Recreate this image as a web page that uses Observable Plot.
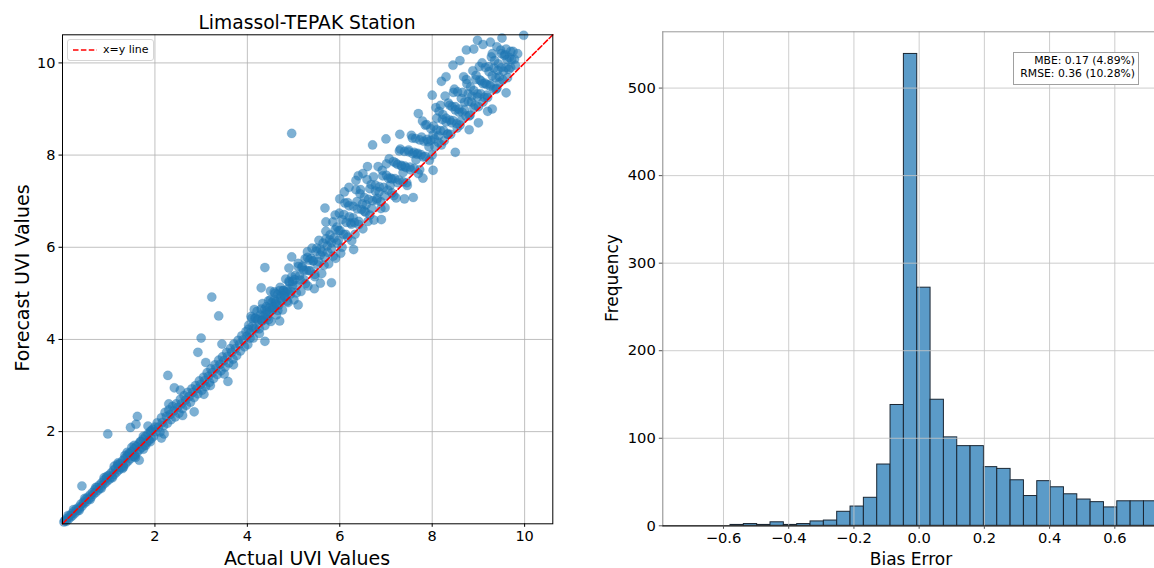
<!DOCTYPE html>
<html>
<head>
<meta charset="utf-8">
<script src="https://cdn.jsdelivr.net/npm/d3@7"></script>
<script src="https://cdn.jsdelivr.net/npm/@observablehq/plot@0.6"></script>
<style>
  body { margin: 0; background: #fff; font-family: "DejaVu Sans", sans-serif; }
  #wrap { position: relative; width: 1154px; height: 568px; overflow: hidden; background: #fff; }
  .abs { position: absolute; white-space: nowrap; color: #000; }
  #left, #right { position: absolute; top: 0; }
  #left { left: 0; }
  #right { left: 580px; }
</style>
</head>
<body>
<div id="wrap">
  <div id="left"></div>
  <div id="right"></div>
  <div class="abs" id="title" style="left:307px;top:21.5px;transform:translate(-50%,-50%);font-size:18.7px;">Limassol-TEPAK Station</div>
  <div class="abs" style="left:307px;top:558px;transform:translate(-50%,-50%);font-size:19px;">Actual UVI Values</div>
  <div class="abs" style="left:22px;top:278px;transform:translate(-50%,-50%) rotate(-90deg);font-size:19px;">Forecast UVI Values</div>
  <div class="abs" style="left:911px;top:559px;transform:translate(-50%,-50%);font-size:17px;">Bias Error</div>
  <div class="abs" style="left:612px;top:278px;transform:translate(-50%,-50%) rotate(-90deg);font-size:17px;">Frequency</div>
  <div class="abs" id="legend" style="left:67px;top:39px;width:85px;height:20px;border:1px solid #d6d6d6;border-radius:3px;background:rgba(255,255,255,0.85);">
    <svg width="30" height="20" style="position:absolute;left:3px;top:0;"><line x1="2" y1="10" x2="26" y2="10" stroke="#ff0000" stroke-width="1.5" stroke-dasharray="5.5,2.4"/></svg>
    <span style="position:absolute;left:35px;top:2px;font-size:11px;line-height:16px;">x=y line</span>
  </div>
  <div class="abs" id="stats" style="left:1013px;top:52px;width:124px;height:29px;border:1.5px solid #a0a0a0;background:#fff;text-align:right;font-size:10.8px;line-height:12.6px;padding-top:2px;">
    <div style="padding-right:3px;">MBE: 0.17 (4.89%)</div>
    <div style="padding-right:3px;">RMSE: 0.36 (10.28%)</div>
  </div>
</div>
<script>
// ---------- Scatter data: [actual, forecast] ----------
const lowBand = [
  [0.03,0.04],[0.05,0.07],[0.08,0.05],[0.1,0.12],[0.13,0.1],[0.15,0.17],[0.18,0.15],[0.2,0.22],[0.22,0.18],[0.25,0.27],
  [0.27,0.23],[0.3,0.32],[0.32,0.28],[0.35,0.36],[0.37,0.33],[0.4,0.43],[0.42,0.38],[0.45,0.47],[0.47,0.44],[0.5,0.53],
  [0.52,0.48],[0.55,0.58],[0.57,0.54],[0.6,0.63],[0.62,0.58],[0.65,0.68],[0.67,0.64],[0.7,0.74],[0.72,0.68],[0.75,0.79],
  [0.77,0.73],[0.8,0.84],[0.82,0.78],[0.85,0.89],[0.87,0.84],[0.9,0.95],[0.92,0.88],[0.95,0.99],[0.97,0.93],[1.0,1.05],
  [1.02,0.97],[1.05,1.1],[1.07,1.02],[1.1,1.16],[1.12,1.07],[1.15,1.2],[1.17,1.12],[1.2,1.26],[1.22,1.17],[1.25,1.31],
  [1.27,1.22],[1.3,1.37],[1.32,1.26],[1.35,1.42],[1.37,1.31],[1.4,1.47],[1.42,1.36],[1.45,1.52],[1.47,1.41],[1.5,1.57],
  [1.52,1.46],[1.55,1.63],[1.57,1.5],[1.6,1.68],[1.62,1.56],[1.65,1.73],[1.67,1.61],[1.7,1.79],[1.72,1.66],[1.75,1.84],
  [1.77,1.7],[1.8,1.9],[1.82,1.76],[1.85,1.95],[1.87,1.81],[1.9,2.0],[1.92,1.85],[1.95,2.05],[1.97,1.9],[2.0,2.1],
  [0.12,0.18],[0.24,0.31],[0.36,0.29],[0.48,0.55],[0.6,0.53],[0.72,0.79],[0.84,0.77],[0.96,1.03],[1.08,1.0],[1.2,1.29],
  [1.32,1.23],[1.44,1.53],[1.56,1.46],[1.68,1.78],[1.8,1.7],[1.92,2.02],[1.35,1.48],[1.55,1.7],[1.75,1.9],[1.9,1.78],
  [0.42,0.82],[0.98,1.95],[1.12,1.25],[1.3,1.2],[1.47,2.09],[1.59,2.16],[1.62,2.33],[1.66,1.38],[1.5,1.66],[1.58,1.44],
  [1.75,1.62],[1.85,2.12],[1.2,1.32],[0.9,1.0],[1.4,1.55]
];
const midBand = [
  [2.02,2.0],[2.05,2.19],[2.08,2.1],[2.11,1.99],[2.14,2.3],[2.16,2.2],[2.19,2.13],[2.22,2.42],[2.25,2.33],[2.27,2.18],
  [2.3,2.47],[2.33,2.37],[2.35,2.26],[2.38,2.55],[2.41,2.45],[2.44,2.32],[2.46,2.6],[2.49,2.52],[2.52,2.4],[2.55,2.7],
  [2.57,2.6],[2.6,2.5],[2.63,2.78],[2.66,2.68],[2.68,2.57],[2.71,2.85],[2.74,2.76],[2.77,2.64],[2.8,2.93],[2.82,2.85],
  [2.85,2.74],[2.88,3.0],[2.91,2.93],[2.93,2.82],[2.96,3.1],[2.99,3.02],[3.02,2.9],[3.05,3.18],[3.07,3.1],[3.1,2.98],
  [3.13,3.28],[3.16,3.2],[3.18,3.07],[3.21,3.36],[3.24,3.28],[3.27,3.15],[3.3,3.45],[3.32,3.37],[3.35,3.24],[3.38,3.55],
  [3.41,3.46],[3.43,3.32],[3.46,3.62],[3.49,3.54],[3.52,3.4],[3.55,3.72],[3.57,3.63],[3.6,3.49],[3.63,3.8],[3.66,3.72],
  [3.69,3.57],[3.71,3.9],[3.74,3.8],[3.77,3.65],[3.8,3.98],[3.83,3.9],[3.85,3.75],[3.88,4.08],[3.91,3.99],[3.94,3.84],
  [3.97,4.17],[3.99,4.07],
  [2.14,1.86],[2.85,2.43],[2.28,3.22],[2.42,2.95],[3.0,4.03],[2.93,3.72],[3.06,2.81],[3.58,3.09],[3.38,4.51],
  [3.23,4.92],[2.2,1.95],[2.6,2.35],[3.2,3.0],[3.5,3.25],[3.1,3.5],[3.45,3.9],[3.7,3.45],[2.3,2.6],[2.55,2.9]
];
const upperBand = [
  [4.01,3.89],[4.03,4.31],[4.06,4.14],[4.08,4.5],[4.11,4.29],[4.13,4.03],[4.16,4.46],[4.18,4.23],[4.21,4.61],[4.23,4.43],
  [4.26,4.13],[4.28,4.53],[4.31,4.41],[4.33,4.78],[4.36,4.51],[4.38,4.3],[4.41,4.71],[4.43,4.48],[4.46,4.84],[4.48,4.68],
  [4.51,4.39],[4.53,4.8],[4.56,4.66],[4.58,5.03],[4.61,4.79],[4.63,4.53],[4.66,4.98],[4.68,4.74],[4.71,5.13],[4.73,4.95],
  [4.76,4.64],[4.78,5.06],[4.81,4.91],[4.83,5.31],[4.86,5.04],[4.88,4.8],[4.91,5.24],[4.93,4.98],[4.96,5.36],[4.98,5.18],
  [5.01,4.86],[5.04,5.39],[5.07,5.17],[5.1,5.65],[5.13,5.38],[5.16,5.04],[5.19,5.59],[5.22,5.3],[5.25,5.75],[5.28,5.5],
  [5.31,5.16],[5.34,5.72],[5.37,5.49],[5.4,5.98],[5.43,5.71],[5.46,5.36],[5.49,5.91],[5.52,5.62],[5.55,6.15],[5.58,5.83],
  [5.61,5.43],[5.64,6.09],[5.67,5.79],[5.7,6.35],[5.73,6.03],[5.76,5.64],[5.79,6.27],[5.82,5.97],[5.85,6.55],[5.88,6.2],
  [5.91,5.76],[5.94,6.44],[5.97,6.15],[5.99,6.74],
  [4.02,4.22],[4.06,4.03],[4.1,4.46],[4.14,4.24],[4.18,4.46],[4.22,4.42],[4.26,4.23],[4.3,4.66],[4.34,4.44],[4.38,4.66],
  [4.42,4.62],[4.46,4.43],[4.5,4.86],[4.54,4.64],[4.58,4.86],[4.62,4.82],[4.66,4.63],[4.7,5.06],[4.74,4.84],[4.78,5.06],
  [4.82,5.02],[4.86,4.83],[4.9,5.26],[4.94,5.04],[4.98,5.26],[5.02,5.3],[5.06,5.01],[5.1,5.58],[5.14,5.29],[5.18,5.56],
  [5.22,5.5],[5.26,5.21],[5.3,5.78],[5.34,5.49],[5.38,5.76],[5.42,5.7],[5.46,5.41],[5.5,5.98],[5.54,5.69],[5.58,5.96],
  [5.62,5.9],[5.66,5.61],[5.7,6.18],[5.74,5.89],[5.78,6.16],[5.82,6.1],[5.86,5.81],[5.9,6.38],[5.94,6.09],[5.98,6.36],
  [4.38,3.96],[4.3,5.12],[4.38,5.56],[4.96,5.79],[5.68,6.85],[5.58,5.22],[5.82,5.23],[4.7,4.4],
  [5.1,4.75],[5.3,5.9],[4.5,5.05],[4.15,4.65],[5.9,6.7],[5.45,5.1],[4.9,5.55],[5.7,6.55],[4.6,5.0],
  [4.32,4.4],[4.4,4.55],[4.48,4.6],[4.56,4.7],[4.64,4.75],[4.72,4.9],[4.8,4.95],[4.88,5.1]
];
const highBand = [
  [6.02,5.87],[6.05,6.6],[6.08,6.28],[6.11,6.96],[6.14,6.54],[6.17,6.22],[6.2,6.9],[6.23,6.53],[6.26,6.14],[6.29,6.89],
  [6.32,6.54],[6.35,7.25],[6.38,6.83],[6.41,6.49],[6.44,7.16],[6.47,6.82],[6.5,6.4],[6.53,7.08],[6.56,6.76],[6.59,7.47],
  [6.62,7.04],[6.65,6.7],[6.68,7.36],[6.71,7.01],[6.74,6.59],[6.77,7.35],[6.8,7.02],[6.83,7.75],[6.86,7.31],[6.89,6.99],
  [6.92,7.67],[6.95,7.3],[6.98,6.86],[7.01,7.56],[7.04,7.24],[7.07,7.92],[7.1,7.5],[7.13,7.18],[7.16,7.86],[7.19,7.49],
  [7.22,7.07],[7.25,7.8],[7.28,7.46],[7.31,8.13],[7.34,7.76],[7.37,7.42],[7.4,8.08],[7.43,7.73],[7.46,7.34],[7.49,8.07],
  [7.52,7.74],[7.55,8.43],[7.58,8.03],[7.61,7.71],[7.64,8.36],[7.67,8.02],[7.7,7.6],[7.73,8.33],[7.76,8.01],[7.79,8.74],
  [7.82,8.3],[7.85,7.97],[7.88,8.66],[7.91,8.29],[7.94,7.89],[7.97,8.57],
  [6.01,6.36],[6.05,6.0],[6.09,6.71],[6.13,6.28],[6.17,6.97],[6.21,6.66],[6.25,6.5],[6.29,6.64],[6.33,6.28],[6.37,6.99],
  [6.41,6.56],[6.45,7.25],[6.49,6.94],[6.53,6.78],[6.57,6.92],[6.61,6.56],[6.65,7.27],[6.69,6.84],[6.73,7.53],[6.77,7.22],
  [6.81,7.06],[6.85,7.2],[6.89,6.84],[6.93,7.55],[6.97,7.12],[7.01,7.81],[7.05,7.5],[7.09,7.34],[7.13,7.48],[7.17,7.12],
  [7.21,7.83],[7.25,7.4],[7.29,8.09],[7.33,7.78],[7.37,7.62],[7.41,7.76],[7.45,7.4],[7.49,8.11],[7.53,7.68],[7.57,8.37],
  [7.61,8.06],[7.65,7.9],[7.69,8.04],[7.73,7.68],[7.77,8.39],[7.81,7.96],[7.85,8.65],[7.89,8.34],[7.93,8.18],[7.97,8.32],
  [6.71,8.22],[7.59,7.08],[8.02,7.67],[6.4,7.55],[6.1,7.2],[7.0,8.35],[7.3,8.45],[6.9,6.6],[7.8,7.5],[6.3,5.95],
  [7.4,7.05],[6.6,7.75],[7.7,8.9],[6.2,7.3],[6.35,7.45],[6.5,7.6],[6.0,7.05]
];
const topBand = [
  [8.0,8.0],[8.03,8.63],[8.05,8.35],[8.08,9.03],[8.1,8.55],[8.13,8.28],[8.15,8.95],[8.18,8.53],[8.2,8.22],[8.23,8.88],
  [8.25,8.53],[8.28,9.28],[8.3,8.8],[8.33,8.45],[8.35,9.13],[8.38,8.76],[8.4,8.45],[8.43,9.05],[8.45,8.75],[8.48,9.43],
  [8.5,8.98],[8.53,8.68],[8.55,9.37],[8.58,8.93],[8.6,8.65],[8.63,9.23],[8.65,8.93],[8.68,9.7],[8.7,9.15],[8.73,8.85],
  [8.75,9.55],[8.78,9.16],[8.8,8.85],[8.83,9.48],[8.85,9.15],[8.88,9.83],[8.9,9.4],[8.93,9.08],[8.95,9.73],[8.98,9.33],
  [9.0,9.05],[9.03,9.63],[9.05,9.33],[9.08,10.0],[9.1,9.55],[9.13,9.25],[9.15,9.9],[9.18,9.53],[9.2,9.25],[9.23,9.81],
  [9.25,9.5],[9.28,10.13],[9.3,9.72],[9.33,9.43],[9.35,10.05],[9.38,9.68],[9.4,9.45],[9.43,9.98],[9.45,9.7],[9.48,10.28],
  [9.5,9.9],[9.53,9.63],[9.56,10.16],[9.6,9.9],[9.63,9.68],[9.67,10.12],[9.7,9.9],[9.75,10.25],[9.8,9.95],[9.85,10.2],
  [8.02,8.44],[8.06,8.18],[8.1,8.8],[8.14,8.42],[8.18,9.08],[8.22,8.77],[8.26,8.31],[8.3,8.72],[8.34,8.46],[8.38,9.08],
  [8.42,8.7],[8.46,9.36],[8.5,9.05],[8.54,8.59],[8.58,9.0],[8.62,8.74],[8.66,9.36],[8.7,8.98],[8.74,9.64],[8.78,9.33],
  [8.82,8.87],[8.86,9.28],[8.9,9.02],[8.94,9.64],[8.98,9.26],[9.02,9.92],[9.06,9.61],[9.1,9.15],[9.14,9.56],[9.18,9.3],
  [9.22,9.92],[9.26,9.54],[9.3,10.2],[9.34,9.89],[9.38,9.43],[9.42,9.84],[9.46,9.58],[9.5,10.2],[9.54,9.82],[9.58,10.18],
  [9.62,10.07],[9.66,9.86],[9.72,10.07],[9.78,10.08],
  [9.98,10.6],[8.98,10.49],[9.26,10.45],[9.51,10.54],[8.74,10.28],[8.5,8.06],[8.6,10.05],[8.9,10.3],[9.1,10.4],
  [9.4,10.35],[9.6,10.3],[9.7,10.25],[8.3,9.7],[8.45,9.95],[9.2,8.95],[9.0,8.7],[8.8,8.55],[9.6,9.35],[9.3,9.0],
  [8.2,9.6],[8.0,9.3],[4.96,8.47]
];
const diagonal = [[0, 0], [10.61, 10.61]];

// ---------- Histogram data ----------
const binEdges = [-0.5785,-0.5376,-0.4967,-0.4558,-0.4149,-0.3740,-0.3331,-0.2922,-0.2513,-0.2104,-0.1695,
  -0.1286,-0.0877,-0.0468,-0.0059,0.0350,0.0759,0.1168,0.1577,0.1986,0.2395,0.2804,0.3213,0.3622,0.4031,
  0.4440,0.4849,0.5258,0.5667,0.6076,0.6485,0.6894,0.7303];
const binCounts = [1,2,1,4,1,2,5,6,16,22,32,70,138,539,272,144,101,91,91,67,65,52,34,51,44,36,30,27,21,28,28,28];

// ---------- Tick values ----------
const uviTicks = [2, 4, 6, 8, 10];
const biasTicks = [-0.6, -0.4, -0.2, 0.0, 0.2, 0.4, 0.6];
const freqTicks = [0, 100, 200, 300, 400, 500];

const points = [...lowBand, ...midBand, ...upperBand, ...highBand, ...topBand];
const bins = binCounts.map((c, i) => ({x0: binEdges[i], x1: binEdges[i + 1], count: c}));

const font = "DejaVu Sans, sans-serif";

const left = Plot.plot({
  width: 580, height: 568,
  marginLeft: 62, marginRight: 27.7, marginTop: 34.3, marginBottom: 44.7,
  style: {fontFamily: font, fontSize: "14.5px", color: "#000", background: "transparent", overflow: "visible"},
  x: {domain: [0, 10.61]},
  y: {domain: [0, 10.61]},
  marks: [
    Plot.gridX(uviTicks, {stroke: "#b0b0b0", strokeOpacity: 0.8, strokeWidth: 1}),
    Plot.gridY(uviTicks, {stroke: "#b0b0b0", strokeOpacity: 0.8, strokeWidth: 1}),
    Plot.dot(points, {x: d => d[0], y: d => d[1], r: 4.6, fill: "#1f77b4", fillOpacity: 0.58, stroke: "#1f77b4", strokeOpacity: 0.3, strokeWidth: 0.6}),
    Plot.line(diagonal, {x: d => d[0], y: d => d[1], stroke: "#ff0000", strokeWidth: 1.6, strokeDasharray: "5.5,2.4"}),
    Plot.frame({stroke: "#000", strokeWidth: 1}),
    Plot.axisX(uviTicks, {tickSize: 3.5, tickPadding: 3.5, fontSize: 14.5, label: null, tickFormat: d => String(d)}),
    Plot.axisY(uviTicks, {tickSize: 3.5, tickPadding: 3.5, fontSize: 14.5, label: null, tickFormat: d => String(d)})
  ]
});
document.getElementById("left").appendChild(left);

const right = Plot.plot({
  width: 574, height: 568,
  marginLeft: 82.3, marginRight: 0, marginTop: 31.3, marginBottom: 42.7,
  style: {fontFamily: font, fontSize: "14.7px", color: "#000", background: "transparent"},
  x: {domain: [-0.7861, 0.7217]},
  y: {domain: [0, 564.3]},
  marks: [
    Plot.rectY(bins, {x1: "x0", x2: "x1", y: "count", fill: "#5b9bc8", stroke: "#1a2633", strokeWidth: 1, clip: true}),
    Plot.gridX(biasTicks, {stroke: "#c4c4c4", strokeOpacity: 0.85, strokeWidth: 1}),
    Plot.gridY(freqTicks.filter(d => d > 0), {stroke: "#c4c4c4", strokeOpacity: 0.85, strokeWidth: 1}),
    Plot.frame({anchor: "left", stroke: "#888"}),
    Plot.frame({anchor: "top", stroke: "#999"}),
    Plot.ruleY([0], {stroke: "#000", strokeWidth: 1.2}),
    Plot.axisX(biasTicks, {tickSize: 3.5, tickPadding: 3.5, fontSize: 14.7, label: null, tickFormat: d3.format(".1f"), stroke: "#555"}),
    Plot.axisY(freqTicks, {tickSize: 3.5, tickPadding: 3.5, fontSize: 14.7, label: null, tickFormat: d => String(d), stroke: "#555"})
  ]
});
document.getElementById("right").appendChild(right);
</script>
</body>
</html>
